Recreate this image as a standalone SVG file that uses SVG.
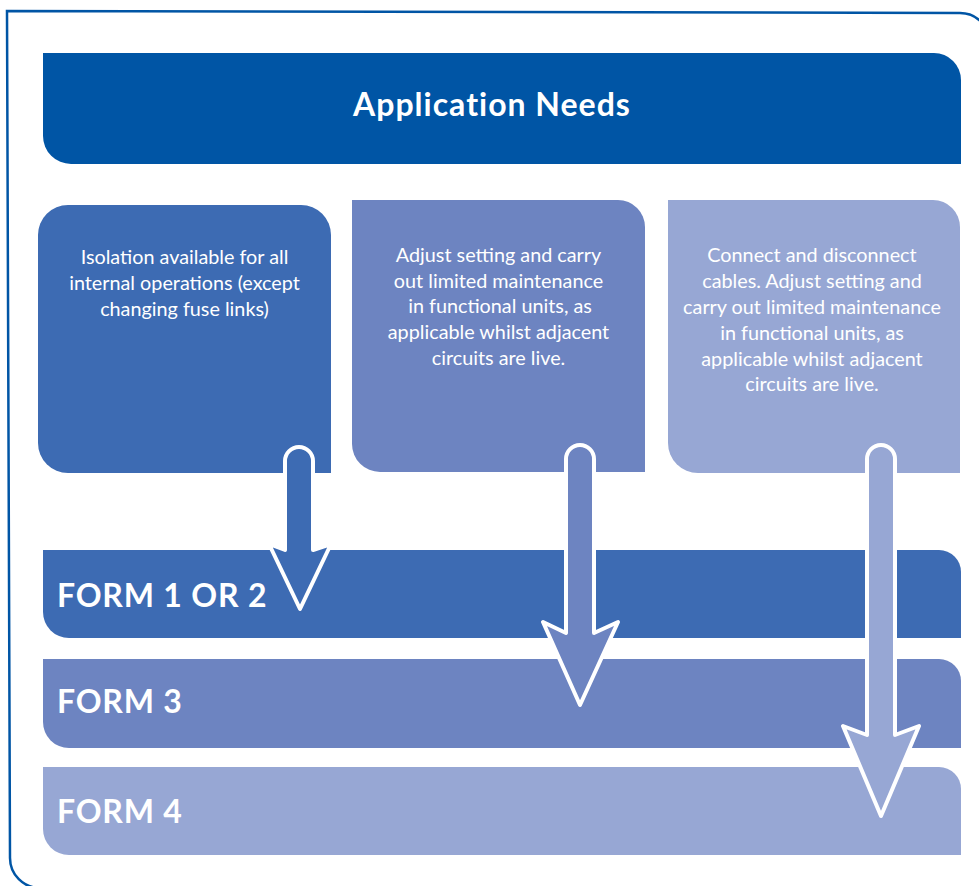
<svg xmlns="http://www.w3.org/2000/svg" width="979" height="886" viewBox="0 0 979 886">
<style>
.c1{fill:#3d6bb3}
.c2{fill:#6d84c1}
.c3{fill:#97a7d4}
.hd{fill:#0055a5}
.t{font-family:Lato,"Open Sans","Liberation Sans",sans-serif;fill:#fff}
.bt{font-size:19.8px;text-anchor:middle}
.ft{font-size:32px;font-weight:bold;letter-spacing:0.8px}
.arr{stroke:#fff;stroke-width:4;stroke-linejoin:round}
</style>
<rect width="979" height="886" fill="#fff"/>
<path d="M990,43 A30 30 0 0 0 960,13 L7,11 L10,858 A30 30 0 0 0 40,888" fill="none" stroke="#0055a5" stroke-width="2.5"/>
<g id="header">
<path class="hd" d="M43,53 H934 A27 27 0 0 1 961,80 V164 H71 A28 28 0 0 1 43,136 Z"/>
<text class="t" x="492" y="116" font-size="32" font-weight="bold" letter-spacing="1" text-anchor="middle">Application Needs</text>
</g>
<g id="box1">
<path class="c1" d="M68,205 H301 A30 30 0 0 1 331,235 V473 H68 A30 30 0 0 1 38,443 V235 A30 30 0 0 1 68,205 Z"/>
<text class="t bt"><tspan x="184.5" y="264">Isolation available for all</tspan><tspan x="184.5" y="290">internal operations (except</tspan><tspan x="184.5" y="316">changing fuse links)</tspan></text>
</g>
<g id="box2">
<path class="c2" d="M352,200 H618 A27 27 0 0 1 645,227 V472 H380 A28 28 0 0 1 352,444 Z"/>
<text class="t bt"><tspan x="498.5" y="262">Adjust setting and carry</tspan><tspan x="498.5" y="288">out limited maintenance</tspan><tspan x="500" y="313">in functional units, as</tspan><tspan x="498.5" y="339">applicable whilst adjacent</tspan><tspan x="498.5" y="365">circuits are live.</tspan></text>
</g>
<g id="box3">
<path class="c3" d="M668,200 H933 A27 27 0 0 1 960,227 V473 H698 A30 30 0 0 1 668,443 Z"/>
<text class="t bt"><tspan x="812" y="262">Connect and disconnect</tspan><tspan x="812" y="288">cables. Adjust setting and</tspan><tspan x="812" y="314">carry out limited maintenance</tspan><tspan x="812" y="340">in functional units, as</tspan><tspan x="812" y="366">applicable whilst adjacent</tspan><tspan x="812" y="391">circuits are live.</tspan></text>
</g>
<g id="form12">
<path class="c1" d="M43,550 H939 A22 22 0 0 1 961,572 V638 H69 A26 26 0 0 1 43,612 Z"/>
<text class="t ft" x="57" y="607">FORM 1 OR 2</text>
</g>
<g id="form3">
<path class="c2" d="M43,659 H939 A22 22 0 0 1 961,681 V748 H69 A26 26 0 0 1 43,722 Z"/>
<text class="t ft" x="57" y="713">FORM 3</text>
</g>
<g id="form4">
<path class="c3" d="M43,767 H939 A22 22 0 0 1 961,789 V855 H69 A26 26 0 0 1 43,829 Z"/>
<text class="t ft" x="57" y="823">FORM 4</text>
</g>
<g id="connectors">
<path class="c1 arr" d="M285,461 A14 14 0 0 1 313,461 V550 L331,544 L300,609 L269,544 L285,550 Z"/>
<path class="c2 arr" d="M566,459 A14 14 0 0 1 594,459 V633 L618,622 L580,705 L543,622 L566,633 Z"/>
<path class="c3 arr" d="M867,459 A14 14 0 0 1 895,459 V735 L919,726 L881,816 L843,726 L867,735 Z"/>
</g>
</svg>
